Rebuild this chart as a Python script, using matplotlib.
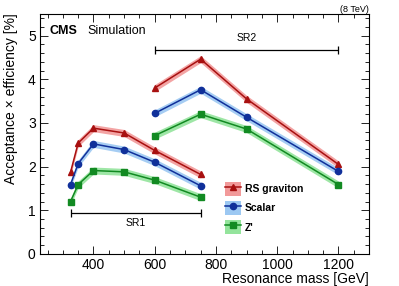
import numpy as np
import matplotlib
matplotlib.use("Agg")
import matplotlib.pyplot as plt
from matplotlib.ticker import MultipleLocator
from matplotlib.patches import Rectangle
from matplotlib.lines import Line2D

plt.rcParams['font.family'] = ['Liberation Sans', 'DejaVu Sans']

# Mass points for the two signal regions.
mass_sr1 = [325, 350, 400, 500, 600, 750]
mass_sr2 = [600, 750, 900, 1200]

# Acceptance x efficiency [%].
rs_sr1 = [1.87, 2.54, 2.88, 2.77, 2.37, 1.82]
scalar_sr1 = [1.59, 2.07, 2.52, 2.39, 2.10, 1.56]
zp_sr1 = [1.20, 1.59, 1.91, 1.88, 1.69, 1.30]

rs_sr2 = [3.80, 4.46, 3.55, 2.05]
scalar_sr2 = [3.22, 3.76, 3.13, 1.89]
zp_sr2 = [2.71, 3.20, 2.86, 1.59]

band = 0.08

series = [
    ("RS graviton", rs_sr1, rs_sr2, "#a81010", "#f29a9a", "^"),
    ("Scalar", scalar_sr1, scalar_sr2, "#10309a", "#9cc8f2", "o"),
    ("Z'", zp_sr1, zp_sr2, "#128a22", "#94e49c", "s"),
]

fig = plt.figure(figsize=(3.99, 2.86), dpi=100)
ax = fig.add_axes([0.100, 0.112, 0.825, 0.840])

for name, y1, y2, col, light, mk in series:
    for m, y in [(mass_sr1, y1), (mass_sr2, y2)]:
        y = np.array(y)
        ax.fill_between(m, y - band, y + band, color=light, lw=0, alpha=0.9)
        ax.plot(m, y, color=col, lw=1.1, marker=mk, ms=4.5, mec=col)

# Signal region bars.
ax.errorbar([537.5], [0.93], xerr=[[212.5], [212.5]], color="black", lw=0.9, capsize=3, capthick=0.9, fmt="none")
ax.text(537.5, 0.72, "SR1", ha="center", va="center", fontsize=7.5)
ax.errorbar([900], [4.67], xerr=[[300], [300]], color="black", lw=0.9, capsize=3, capthick=0.9, fmt="none")
ax.text(900, 4.95, "SR2", ha="center", va="center", fontsize=7.5)

ax.set_xlim(225, 1300)
ax.set_ylim(0, 5.5)
ax.xaxis.set_major_locator(MultipleLocator(200))
ax.xaxis.set_minor_locator(MultipleLocator(50))
ax.yaxis.set_major_locator(MultipleLocator(1))
ax.yaxis.set_minor_locator(MultipleLocator(0.2))
ax.tick_params(which="both", direction="in", top=True, right=True, labelsize=10, width=0.6, pad=3)
ax.tick_params(which="major", length=6)
ax.tick_params(which="minor", length=3)
for s in ax.spines.values():
    s.set_linewidth(0.8)

ax.set_xlabel("Resonance mass [GeV]", fontsize=10, loc="right", labelpad=0)
ax.set_ylabel("Acceptance \u00d7 efficiency [%]", fontsize=10, loc="top", labelpad=7)

ax.text(0.03, 0.93, "CMS", transform=ax.transAxes, fontsize=9, fontweight="bold", va="center")
ax.text(0.145, 0.93, "Simulation", transform=ax.transAxes, fontsize=9, va="center")
fig.text(0.925, 0.968, "(8 TeV)", ha="right", va="center", fontsize=6.5)

# Legend with shaded boxes.
handles = []
for name, y1, y2, col, light, mk in series:
    handles.append((Rectangle((0, 0), 1, 1, color=light, lw=0),
                    Line2D([], [], color=col, lw=1.1, marker=mk, ms=4.5)))
ax.legend(handles, [s[0] for s in series], loc="lower left", bbox_to_anchor=(0.535, 0.045),
          frameon=False, handlelength=1.5, handleheight=1.6,
          labelspacing=0.55, handletextpad=0.35, prop={"weight": "bold", "size": 7.5})

fig.savefig("out.png", dpi=100)
